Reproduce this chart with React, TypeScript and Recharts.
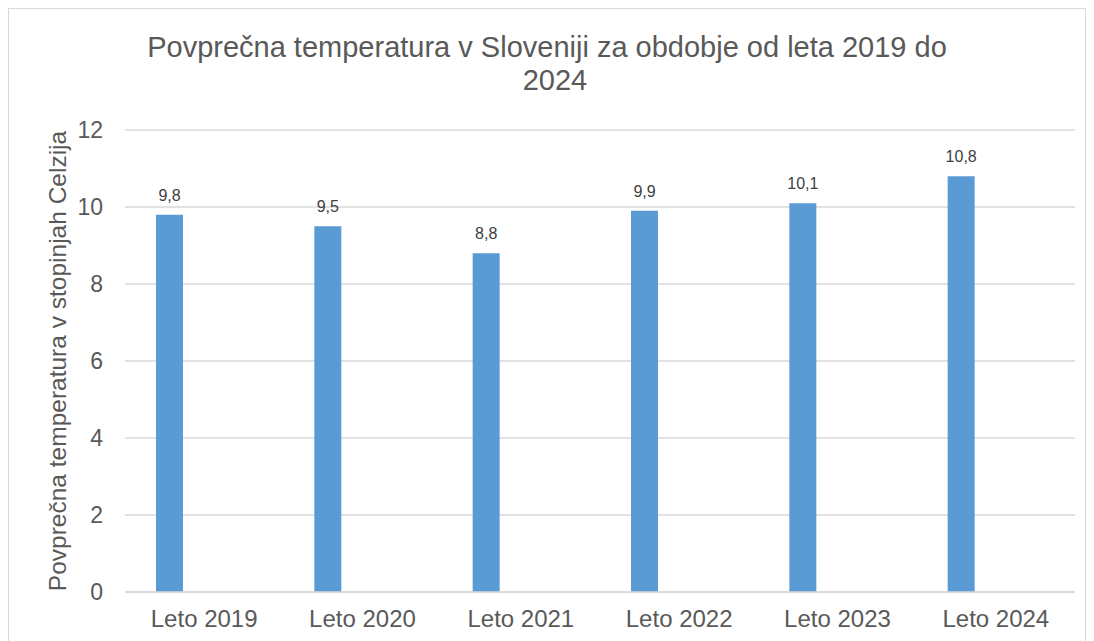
import { Bar, BarChart, CartesianGrid, LabelList, XAxis, YAxis } from "recharts";

const categories = ["Leto 2019", "Leto 2020", "Leto 2021", "Leto 2022", "Leto 2023", "Leto 2024"];
const temperatures = [9.8, 9.5, 8.8, 9.9, 10.1, 10.8];
const emptySeries = [null, null, null, null, null, null];
const yTicks = [0, 2, 4, 6, 8, 10, 12];

const data = categories.map((name, i) => ({
  name,
  temp: temperatures[i],
  empty: emptySeries[i],
}));

const GREY = "#595959";
const FONT = "'Liberation Sans', Arial, sans-serif";

const fmt = (v: unknown) => (v == null ? "" : String(v).replace(".", ","));

export default function App() {
  return (
    <div
      style={{
        width: 1076,
        height: 640,
        border: "1px solid #d9d9d9",
        background: "#fff",
        fontFamily: FONT,
      }}
    >
      <BarChart
        width={1076}
        height={640}
        data={data}
        margin={{ top: 121, right: 10, bottom: 17, left: 0 }}
        barCategoryGap={31}
        barGap={42}
        style={{ fontFamily: FONT }}
      >
        <text x={538} y={48} textAnchor="middle" fontSize={29} fill={GREY} fontFamily={FONT}>
          Povprečna temperatura v Sloveniji za obdobje od leta 2019 do
        </text>
        <text x={546} y={81} textAnchor="middle" fontSize={29} fill={GREY} fontFamily={FONT}>
          2024
        </text>
        <CartesianGrid vertical={false} stroke="#d9d9d9" strokeWidth={1.5} />
        <XAxis
          dataKey="name"
          axisLine={{ stroke: "#d9d9d9", strokeWidth: 1.5 }}
          tickLine={false}
          tickSize={0}
          tickMargin={18}
          height={40}
          tick={{ fill: GREY, fontSize: 24, fontFamily: FONT }}
        />
        <YAxis
          width={116}
          domain={[0, 12]}
          ticks={yTicks}
          axisLine={false}
          tickLine={false}
          tickSize={0}
          tickMargin={22}
          tick={{ fill: GREY, fontSize: 23, fontFamily: FONT }}
          label={{
            value: "Povprečna temperatura v stopinjah Celzija",
            angle: -90,
            position: "insideLeft",
            offset: 48,
            style: { textAnchor: "middle", fill: GREY, fontSize: 24.5, fontFamily: FONT },
          }}
        />
        <Bar dataKey="temp" fill="#5b9bd5" isAnimationActive={false}>
          <LabelList
            dataKey="temp"
            position="top"
            offset={14}
            formatter={fmt}
            style={{ fill: "#404040", fontSize: 16, fontFamily: FONT }}
          />
        </Bar>
        <Bar dataKey="empty" fill="#ed7d31" isAnimationActive={false} />
      </BarChart>
    </div>
  );
}
